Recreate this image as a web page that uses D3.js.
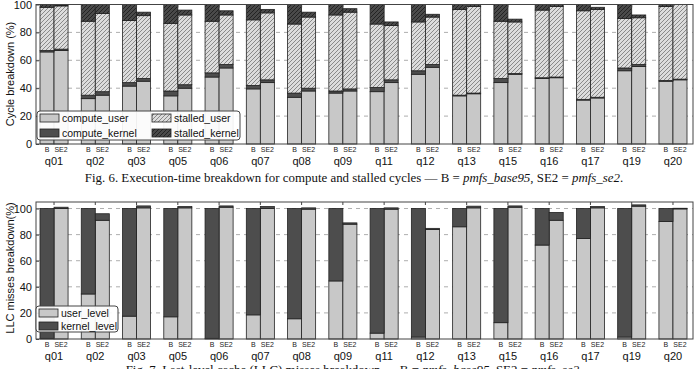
<!DOCTYPE html>
<html>
<head>
<meta charset="utf-8">
<script src="https://cdn.jsdelivr.net/npm/d3@7"></script>
<style>
  body { margin: 0; background: #fff; }
  svg { display: block; }
  text { font-family: "Liberation Sans", Arial, sans-serif; }
</style>
</head>
<body>
<svg id="chart" width="696" height="369"></svg>
<script>
var queries = ["q01","q02","q03","q05","q06","q07","q08","q09","q11","q12","q13","q15","q16","q17","q19","q20"];
var configs = ["B", "SE2"];

// Fig 6 - cycle breakdown, each pair is [B, SE2]
var computeUser   = [[66,67],[32.5,35],[41.5,45],[34.5,40],[48,54.5],[39.5,44],[33.5,38],[36.5,38],[37.5,44],[50,55],[34.5,36],[44,50],[47,47.5],[31.5,33],[52.5,55.5],[45,46]];
var computeKernel = [[1,1],[2.5,2.5],[2.5,2],[3.5,2.5],[3,2.5],[2.5,2],[3,2],[1.5,1.5],[3,2],[2.5,2],[0.5,0.5],[3,0.5],[0.5,0.5],[0.5,0.5],[2,1.5],[0.5,0.5]];
var stalledUser   = [[31,31],[53,56],[44.5,45],[48.5,50],[37,35.5],[47,48],[49.5,51],[54.5,55],[45.5,39],[35,34],[61.5,62],[41,37],[48.5,50.5],[63.5,63],[35.5,33.5],[53,53.5]];
var stalledKernel = [[2,0.5],[12,6.5],[11.5,2.5],[13.5,3.5],[12,3],[11,2.5],[14,3.5],[7.5,2.5],[14,2.5],[12.5,2],[3.5,1.5],[12,2],[4,1.5],[4.5,1.5],[10,2],[1.5,0]];

// Fig 7 - LLC misses breakdown
var userLevel   = [[0.5,100],[34.5,91],[17.5,100.5],[17,100.5],[0.5,101],[18.5,100],[15.5,99.5],[44.5,88],[4.5,99.5],[1.5,84],[86,100.5],[12.5,101],[72,91],[77,100.5],[1.5,101.8],[90,99.7]];
var kernelLevel = [[99.5,1],[65.5,5],[82.5,1.5],[83,1],[99.5,1],[81.5,1.5],[84.5,1],[55.5,1],[95.5,1],[98.5,0.8],[14,1.3],[87.5,1],[28,6],[23,1],[98.5,1],[10,0.5]];

var yTicks1 = [0,20,40,60,80,100];
var yTicks2 = [0,20,40,60,80,100];

var svg = d3.select("#chart");
var defs = svg.append("defs");

function hatch(id, bg, fg) {
  var p = defs.append("pattern").attr("id", id)
    .attr("patternUnits", "userSpaceOnUse").attr("width", 4).attr("height", 4);
  p.append("rect").attr("width", 4).attr("height", 4).attr("fill", bg);
  p.append("path").attr("d", "M-1,1 l2,-2 M0,4 l4,-4 M3,5 l2,-2")
    .attr("stroke", fg).attr("stroke-width", 0.9);
}
hatch("hatchLight", "#dcdcdc", "#808080");
hatch("hatchDark", "#4a4a4a", "#1e1e1e");

var fills = {
  compute_user: "#c8c8c8",
  compute_kernel: "#4d4d4d",
  stalled_user: "url(#hatchLight)",
  stalled_kernel: "url(#hatchDark)",
  user_level: "#c8c8c8",
  kernel_level: "#4d4d4d"
};

var left = 36, right = 693;
var x0 = d3.scaleBand().domain(queries).range([40, 687]).paddingInner(0.32);
var x1 = d3.scaleBand().domain(configs).range([0, x0.bandwidth()]);

function buildRows(series) {
  var rows = [];
  queries.forEach(function(q, i) {
    configs.forEach(function(c, j) {
      var r = { q: q, c: c };
      series.forEach(function(s) { r[s.key] = s.values[i][j]; });
      rows.push(r);
    });
  });
  return rows;
}

function drawPanel(opt) {
  var y = d3.scaleLinear().domain(opt.domain).range([opt.bottom, opt.top]);
  var g = svg.append("g");

  // grid
  g.selectAll(".grid").data(opt.grid).enter().append("line")
    .attr("x1", left).attr("x2", right)
    .attr("y1", function(d) { return y(d); }).attr("y2", function(d) { return y(d); })
    .attr("stroke", "#999").attr("stroke-width", 0.8).attr("stroke-dasharray", "4,4");

  var keys = opt.series.map(function(s) { return s.key; });
  var rows = buildRows(opt.series);
  var stack = d3.stack().keys(keys)(rows);

  stack.forEach(function(layer) {
    g.selectAll(".bar-" + layer.key).data(layer).enter().append("rect")
      .attr("x", function(d) { return x0(d.data.q) + x1(d.data.c); })
      .attr("width", x1.bandwidth())
      .attr("y", function(d) { return y(d[1]); })
      .attr("height", function(d) { return Math.max(0, y(d[0]) - y(d[1])); })
      .attr("fill", fills[layer.key])
      .attr("stroke", "#222").attr("stroke-width", 0.8);
  });

  // frame
  g.append("rect").attr("x", left).attr("y", opt.top)
    .attr("width", right - left).attr("height", opt.bottom - opt.top)
    .attr("fill", "none").attr("stroke", "#444").attr("stroke-width", 1);

  var yAxis = g.append("g").attr("transform", "translate(" + left + ",0)")
    .call(d3.axisLeft(y).tickValues(opt.ticks).tickSize(-3).tickPadding(4));
  yAxis.select(".domain").remove();
  yAxis.selectAll("text").attr("font-size", 11).attr("fill", "#111")
    .style("font-family", "'Liberation Sans', Arial, sans-serif");
  yAxis.selectAll("line").attr("stroke", "#444");

  var topAxis = g.append("g").attr("transform", "translate(0," + opt.top + ")")
    .call(d3.axisTop(x0).tickSize(-3).tickFormat(""));
  topAxis.select(".domain").remove();
  topAxis.selectAll("line").attr("stroke", "#444");

  var xAxis = g.append("g").attr("transform", "translate(0," + opt.bottom + ")")
    .call(d3.axisBottom(x0).tickSize(0).tickPadding(13));
  xAxis.select(".domain").remove();
  xAxis.selectAll("text").attr("font-size", 11).attr("fill", "#111")
    .style("font-family", "'Liberation Sans', Arial, sans-serif");

  // B / SE2 sub labels
  queries.forEach(function(q) {
    configs.forEach(function(c) {
      g.append("text")
        .attr("x", x0(q) + x1(c) + x1.bandwidth() / 2)
        .attr("y", opt.bottom + 7.5)
        .attr("text-anchor", "middle")
        .attr("font-size", 7).attr("fill", "#222")
        .text(c);
    });
  });

  // y title
  g.append("text")
    .attr("transform", "translate(14," + opt.titleY + ") rotate(-90)")
    .attr("text-anchor", "middle").attr("font-size", 11).attr("fill", "#111")
    .text(opt.title);

  // legend
  var L = opt.legend;
  g.append("rect").attr("x", L.x).attr("y", L.y).attr("width", L.w).attr("height", L.h)
    .attr("rx", 3).attr("fill", "#fff").attr("fill-opacity", 0.92)
    .attr("stroke", "#444").attr("stroke-width", 1);
  L.items.forEach(function(it) {
    g.append("rect").attr("x", it.x).attr("y", it.y - 4).attr("width", 19).attr("height", 8)
      .attr("fill", fills[it.key]).attr("stroke", "#222").attr("stroke-width", 0.8);
    g.append("text").attr("x", it.x + 22).attr("y", it.y + 4)
      .attr("font-size", 10.5).attr("fill", "#111").text(it.key);
  });
}

drawPanel({
  domain: [0, 100], top: 4.5, bottom: 144,
  grid: [20, 40, 60, 80], ticks: yTicks1,
  title: "Cycle breakdown (%)", titleY: 74,
  series: [
    { key: "compute_user", values: computeUser },
    { key: "compute_kernel", values: computeKernel },
    { key: "stalled_user", values: stalledUser },
    { key: "stalled_kernel", values: stalledKernel }
  ],
  legend: { x: 37, y: 111, w: 203, h: 29, items: [
    { key: "compute_user", x: 40, y: 118 },
    { key: "compute_kernel", x: 40, y: 133 },
    { key: "stalled_user", x: 152, y: 118 },
    { key: "stalled_kernel", x: 152, y: 133 }
  ]}
});

drawPanel({
  domain: [0, 105], top: 202, bottom: 339,
  grid: [20, 40, 60, 80, 100], ticks: yTicks2,
  title: "LLC misses breakdown(%)", titleY: 268,
  series: [
    { key: "user_level", values: userLevel },
    { key: "kernel_level", values: kernelLevel }
  ],
  legend: { x: 36, y: 306, w: 82, h: 26, items: [
    { key: "user_level", x: 39, y: 313 },
    { key: "kernel_level", x: 39, y: 326 }
  ]}
});

// captions
function caption(y, size, parts) {
  var t = svg.append("text").attr("x", 354).attr("y", y).attr("text-anchor", "middle")
    .attr("font-size", size).attr("fill", "#111")
    .style("font-family", "'Liberation Serif', 'Times New Roman', serif");
  parts.forEach(function(p) {
    t.append("tspan").attr("font-style", p[1] ? "italic" : "normal").text(p[0]);
  });
}
caption(181.5, 12.9, [["Fig. 6.  Execution-time breakdown for compute and stalled cycles \u2014 B = ", false], ["pmfs_base95", true], [", SE2 = ", false], ["pmfs_se2", true], [".", false]]);
caption(374, 12.9, [["Fig. 7.  Last-level cache (LLC) misses breakdown \u2014 B = ", false], ["pmfs_base95", true], [", SE2 = ", false], ["pmfs_se2", true], [".", false]]);
</script>
</body>
</html>
